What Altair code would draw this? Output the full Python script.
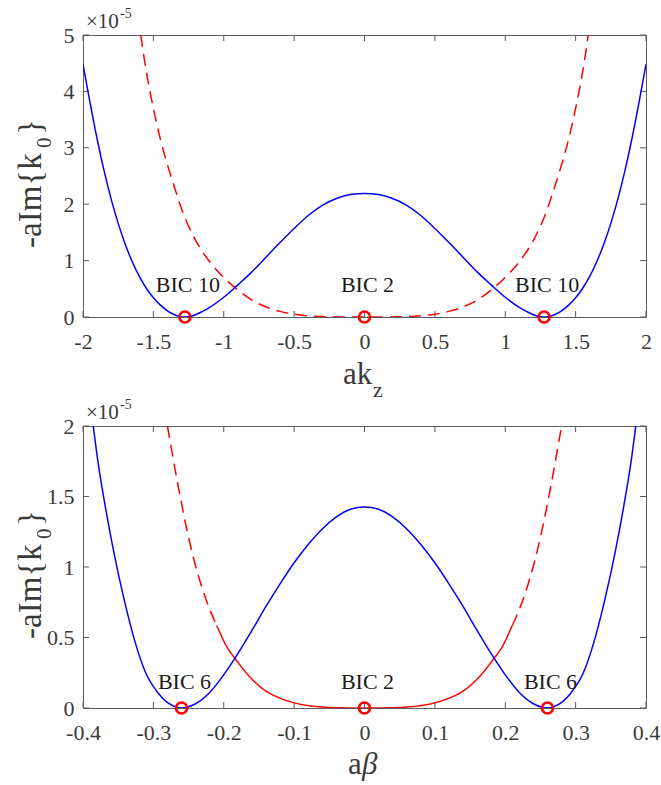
import altair as alt
import pandas as pd

# ---------------- Panel 1: -aIm{k0} versus ak_z (values in units of 1e-5) ----------------
kz_blue_x = [-2.0, -1.95, -1.90, -1.85, -1.80, -1.75, -1.70, -1.65, -1.60, -1.55, -1.50,
             -1.45, -1.40, -1.35, -1.30, -1.276, -1.25, -1.20, -1.15, -1.10, -1.00, -0.90,
             -0.80, -0.70, -0.60, -0.50, -0.40, -0.30, -0.20, -0.10, 0.0,
             0.10, 0.20, 0.30, 0.40, 0.50, 0.60, 0.70, 0.80, 0.90, 1.00, 1.10, 1.15, 1.20,
             1.25, 1.276, 1.30, 1.35, 1.40, 1.45, 1.50, 1.55, 1.60, 1.65, 1.70, 1.75, 1.80,
             1.85, 1.90, 1.95, 2.0]
kz_blue_y = [4.48, 3.80, 3.16, 2.59, 2.09, 1.66, 1.29, 0.98, 0.72, 0.51, 0.34,
             0.21, 0.11, 0.04, 0.005, 0.0, 0.005, 0.04, 0.10, 0.17, 0.35, 0.57,
             0.80, 1.06, 1.32, 1.57, 1.80, 1.98, 2.10, 2.17, 2.19,
             2.17, 2.10, 1.98, 1.80, 1.57, 1.32, 1.06, 0.80, 0.57, 0.35, 0.17, 0.10, 0.04,
             0.005, 0.0, 0.005, 0.04, 0.11, 0.21, 0.34, 0.51, 0.72, 0.98, 1.29, 1.66, 2.09,
             2.59, 3.16, 3.80, 4.48]

kz_red_x = [-1.59, -1.55, -1.50, -1.45, -1.40, -1.35, -1.30, -1.20, -1.10, -1.00, -0.90,
            -0.80, -0.68, -0.60, -0.50, -0.40, -0.30, -0.20, -0.10, 0.0,
            0.10, 0.20, 0.30, 0.40, 0.50, 0.60, 0.68, 0.80, 0.90, 1.00, 1.10, 1.20, 1.30,
            1.35, 1.40, 1.45, 1.50, 1.55, 1.59]
kz_red_y = [5.0, 4.35, 3.70, 3.15, 2.70, 2.30, 1.92, 1.36, 0.98, 0.70, 0.48,
            0.30, 0.16, 0.10, 0.05, 0.022, 0.008, 0.002, 0.0, 0.0,
            0.0, 0.002, 0.008, 0.022, 0.05, 0.10, 0.16, 0.30, 0.48, 0.70, 0.98, 1.36, 1.92,
            2.30, 2.70, 3.15, 3.70, 4.35, 5.0]

kz_bic_x = [-1.276, 0.0, 1.276]
kz_bic_text = ["BIC 10", "BIC 2", "BIC 10"]
kz_xticks = [-2, -1.5, -1, -0.5, 0, 0.5, 1, 1.5, 2]
kz_yticks = [0, 1, 2, 3, 4, 5]

# ---------------- Panel 2: -aIm{k0} versus a*beta (values in units of 1e-5) ----------------
beta_blue_x = [-0.3855, -0.378, -0.368, -0.356, -0.343, -0.327, -0.311, -0.293, -0.274, -0.26,
               -0.24, -0.22, -0.20, -0.18, -0.16, -0.14, -0.12, -0.10, -0.08, -0.06, -0.04,
               -0.02, 0.0,
               0.02, 0.04, 0.06, 0.08, 0.10, 0.12, 0.14, 0.16, 0.18, 0.20, 0.22, 0.24, 0.26,
               0.274, 0.293, 0.311, 0.327, 0.343, 0.356, 0.368, 0.378, 0.3855]
beta_blue_y = [2.0, 1.72, 1.42, 1.10, 0.80, 0.485, 0.25, 0.105, 0.02, 0.0,
               0.03, 0.11, 0.235, 0.385, 0.55, 0.72, 0.88, 1.03, 1.16, 1.27, 1.355,
               1.41, 1.426,
               1.41, 1.355, 1.27, 1.16, 1.03, 0.88, 0.72, 0.55, 0.385, 0.235, 0.11, 0.03, 0.0,
               0.02, 0.105, 0.25, 0.485, 0.80, 1.10, 1.42, 1.72, 2.0]

# red branch: dashed outside |a*beta| ~ 0.21, solid inside
beta_red_x = [-0.28, -0.265, -0.25, -0.235, -0.22, -0.215, -0.21,
              -0.21, -0.205, -0.20, -0.18, -0.16, -0.14, -0.12, -0.10, -0.08, -0.06, -0.03,
              0.0,
              0.03, 0.06, 0.08, 0.10, 0.12, 0.14, 0.16, 0.18, 0.20, 0.205, 0.21,
              0.21, 0.215, 0.22, 0.235, 0.25, 0.265, 0.28]
beta_red_y = [2.0, 1.58, 1.21, 0.92, 0.70, 0.64, 0.585,
              0.585, 0.53, 0.475, 0.325, 0.205, 0.12, 0.07, 0.037, 0.017, 0.007, 0.001,
              0.0,
              0.001, 0.007, 0.017, 0.037, 0.07, 0.12, 0.205, 0.325, 0.475, 0.53, 0.585,
              0.585, 0.64, 0.70, 0.92, 1.21, 1.58, 2.0]
beta_red_seg = ["left"] * 7 + ["mid"] * 23 + ["right"] * 7
beta_red_style = ["dashed"] * 7 + ["solid"] * 23 + ["dashed"] * 7

beta_bic_x = [-0.26, 0.0, 0.26]
beta_bic_text = ["BIC 6", "BIC 2", "BIC 6"]
beta_xticks = [-0.4, -0.3, -0.2, -0.1, 0, 0.1, 0.2, 0.3, 0.4]
beta_yticks = [0, 0.5, 1, 1.5, 2]

W, H = 563, 282
SERIF = "Liberation Serif"
AXIS_GREY = "#5a5a5a"
TEXT_GREY = "#3a3a3a"
TICK_LEN = 6
LABEL_EXPR = ("datum.value < 0 ? '-' + format(-datum.value, '~g') "
              ": format(datum.value, '~g')")


def panel(blue, red, bic, xdom, ydom, xticks, yticks, ytitle, xtitle, bic_dy):
    xs = alt.Scale(domain=xdom, nice=False, zero=False)
    ys = alt.Scale(domain=ydom, nice=False, zero=False)
    x_axis = alt.Axis(values=xticks, labelExpr=LABEL_EXPR, ticks=False, tickSize=0,
                      domain=False, grid=False, title=None, labelFont=SERIF,
                      labelFontSize=22, labelColor=TEXT_GREY, labelPadding=14,
                      labelFlush=False, labelOverlap=False)
    y_axis = alt.Axis(values=yticks, labelExpr=LABEL_EXPR, ticks=False, tickSize=0,
                      domain=False, grid=False, title=None, labelFont=SERIF,
                      labelFontSize=22, labelColor=TEXT_GREY, labelPadding=9,
                      labelFlush=False, labelOverlap=False)

    def X(field="x"):
        return alt.X(f"{field}:Q", scale=xs, axis=x_axis)

    def Y(field="y"):
        return alt.Y(f"{field}:Q", scale=ys, axis=y_axis)

    blue_line = alt.Chart(blue).mark_line(color="#0000ff", strokeWidth=1.5, clip=True,
                                          interpolate="monotone").encode(
        x=X(), y=Y(), order="i:Q")

    red_line = alt.Chart(red).mark_line(color="#ff0000", strokeWidth=1.5, clip=True,
                                        interpolate="monotone").encode(
        x=X(), y=Y(), order="i:Q", detail="seg:N",
        strokeDash=alt.StrokeDash("style:N", legend=None,
                                  scale=alt.Scale(domain=["solid", "dashed"],
                                                  range=[[1, 0], [12, 7]])))

    bic_pts = alt.Chart(bic).mark_point(shape="circle", filled=False, color="#ff0000",
                                        size=121, strokeWidth=2.6, opacity=1).encode(
        x=X(), y=Y())

    bic_lbl = alt.Chart(bic).mark_text(font=SERIF, fontSize=22, color="#1a1a1a",
                                       baseline="alphabetic", align="center",
                                       dx=3, dy=bic_dy).encode(
        x=X(), y=Y(), text="label:N")

    xt = pd.DataFrame({"x": xticks})
    yt = pd.DataFrame({"y": yticks})
    tick_style = dict(color=AXIS_GREY, strokeWidth=1)
    ticks = [
        alt.Chart(xt).mark_rule(**tick_style).encode(
            x=X(), y=alt.value(H), y2=alt.value(H - TICK_LEN)),
        alt.Chart(xt).mark_rule(**tick_style).encode(
            x=X(), y=alt.value(0), y2=alt.value(TICK_LEN)),
        alt.Chart(yt).mark_rule(**tick_style).encode(
            y=Y(), x=alt.value(0), x2=alt.value(TICK_LEN)),
        alt.Chart(yt).mark_rule(**tick_style).encode(
            y=Y(), x=alt.value(W), x2=alt.value(W - TICK_LEN)),
    ]

    def label(df, **kw):
        return alt.Chart(df).mark_text(font=SERIF, color=TEXT_GREY, **kw).encode(
            x=alt.value(df["px"][0]), y=alt.value(df["py"][0]), text="t:N")

    texts = []
    for t, px, py, size, style in ytitle:
        df = pd.DataFrame({"t": [t], "px": [px], "py": [py]})
        texts.append(label(df, angle=270, align="left", baseline="alphabetic",
                           fontSize=size, fontStyle=style))
    for t, px, py, size, style in xtitle:
        df = pd.DataFrame({"t": [t], "px": [px], "py": [py]})
        texts.append(label(df, align="left", baseline="alphabetic",
                           fontSize=size, fontStyle=style))
    # exponent above the y axis
    for t, px, py, size in [("\u00d710", 3, -7, 21), ("-5", 37, -17, 14)]:
        df = pd.DataFrame({"t": [t], "px": [px], "py": [py]})
        texts.append(label(df, align="left", baseline="alphabetic", fontSize=size))

    return alt.layer(*ticks, red_line, blue_line, bic_pts, bic_lbl, *texts).properties(
        width=W, height=H)


kz_blue = pd.DataFrame({"x": kz_blue_x, "y": kz_blue_y, "i": range(len(kz_blue_x))})
kz_red = pd.DataFrame({"x": kz_red_x, "y": kz_red_y, "i": range(len(kz_red_x)),
                       "seg": "all", "style": "dashed"})
kz_bic = pd.DataFrame({"x": kz_bic_x, "y": [0.0] * 3, "label": kz_bic_text})

beta_blue = pd.DataFrame({"x": beta_blue_x, "y": beta_blue_y, "i": range(len(beta_blue_x))})
beta_red = pd.DataFrame({"x": beta_red_x, "y": beta_red_y, "i": range(len(beta_red_x)),
                         "seg": beta_red_seg, "style": beta_red_style})
beta_bic = pd.DataFrame({"x": beta_bic_x, "y": [0.0] * 3, "label": beta_bic_text})

ytitle = [("-aIm{k", -42, 213, 33, "normal"), ("0", -32, 113, 21, "normal"),
          ("}", -42, 100, 33, "normal")]

top = panel(kz_blue, kz_red, kz_bic, [-2, 2], [0, 5], kz_xticks, kz_yticks, ytitle,
            [("ak", 260, 349, 31, "normal"), ("z", 290, 362, 22, "normal")], -25)
bottom = panel(beta_blue, beta_red, beta_bic, [-0.4, 0.4], [0, 2], beta_xticks, beta_yticks,
               ytitle,
               [("a", 265, 348, 31, "normal"), ("\u03b2", 279, 348, 31, "italic")], -19)

chart = alt.vconcat(top, bottom, spacing=109, bounds="flush").properties(
    padding={"left": 14, "top": 6, "right": 0, "bottom": 2}
).configure_view(stroke=AXIS_GREY, strokeWidth=1)

chart.save("out.html", embed_options={"renderer": "svg", "actions": False})
